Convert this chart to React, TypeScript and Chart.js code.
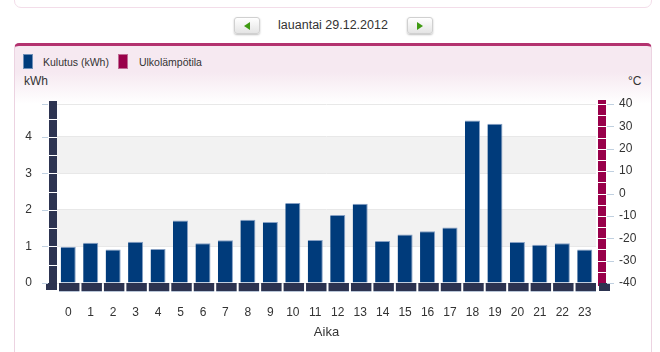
import React, { useEffect, useRef } from "react";
import { Chart, registerables } from "chart.js";

Chart.register(...registerables);

const dateLabel = "lauantai 29.12.2012";
const hours = ["0","1","2","3","4","5","6","7","8","9","10","11","12","13","14","15","16","17","18","19","20","21","22","23"];
const consumption = [0.99, 1.1, 0.92, 1.13, 0.93, 1.71, 1.09, 1.17, 1.73, 1.67, 2.19, 1.18, 1.86, 2.17, 1.15, 1.33, 1.42, 1.52, 4.45, 4.36, 1.12, 1.05, 1.09, 0.92];
const temperature: (number | null)[] = [];
const seriesNames = ["Kulutus (kWh)", "Ulkolämpötila"];
const seriesColors = ["#003b7b", "#99004a"];
const leftTicks = [0, 1, 2, 3, 4];
const rightTicks = [-40, -30, -20, -10, 0, 10, 20, 30, 40];
const leftUnit = "kWh";
const rightUnit = "°C";
const xTitle = "Aika";

const FONT = "Arial, 'Liberation Sans', sans-serif";

const decoPlugin = {
  id: "deco",
  beforeDraw(chart: any) {
    const { ctx, chartArea: a, scales } = chart;
    const y = scales.y;
    ctx.save();
    ctx.fillStyle = "#f2f2f2";
    leftTicks.forEach((t, i) => {
      if (t % 2 === 1 && i + 1 < leftTicks.length) {
        const top = y.getPixelForValue(leftTicks[i + 1]);
        const bot = y.getPixelForValue(t);
        ctx.fillRect(a.left, top, a.right - a.left, bot - top);
      }
    });
    ctx.restore();
  },
  afterDatasetsDraw(chart: any) {
    const { ctx, chartArea: a, scales } = chart;
    const x = scales.x;
    const y = scales.y;
    const y1 = scales.y1;
    ctx.save();
    ctx.fillStyle = "#2d3451";
    ctx.fillRect(a.left - 8, a.top - 3, 8, a.bottom - a.top + 3);
    ctx.strokeStyle = "#ffffff";
    ctx.lineWidth = 1;
    for (let v = 0.5; v < y.max; v += 0.5) {
      const py = Math.round(y.getPixelForValue(v)) + 0.5;
      ctx.beginPath();
      ctx.moveTo(a.left - 8, py);
      ctx.lineTo(a.left, py);
      ctx.stroke();
    }
    ctx.fillStyle = "#99004a";
    ctx.fillRect(a.right + 2, a.top - 4, 8, a.bottom - a.top + 7);
    for (let v = y1.min + 5; v <= y1.max; v += 5) {
      const py = Math.round(y1.getPixelForValue(v)) + 0.5;
      ctx.beginPath();
      ctx.moveTo(a.right + 2, py);
      ctx.lineTo(a.right + 10, py);
      ctx.stroke();
    }
    ctx.fillStyle = "#2c3350";
    const step = (a.right - a.left) / hours.length;
    hours.forEach((_, i) => {
      const cx = x.getPixelForValue(i);
      ctx.fillRect(cx - step / 2 + 2, a.bottom, step - 2, 8);
    });
    ctx.fillRect(a.left - 11, a.bottom, 11, 7);
    ctx.fillRect(a.right + 3, a.bottom, 11, 8);
    ctx.fillStyle = "#b9c6d8";
    hours.forEach((_, i) => {
      const cx = x.getPixelForValue(i);
      ctx.fillRect(cx - step / 2 + 2, a.bottom + 8, step - 2, 1);
    });
    ctx.strokeStyle = "#c0d0e0";
    const lt = [...leftTicks, y.max];
    lt.forEach((v) => {
      const py = Math.round(y.getPixelForValue(v)) + 0.5;
      ctx.beginPath();
      ctx.moveTo(a.left - 15, py);
      ctx.lineTo(a.left - 9, py);
      ctx.stroke();
    });
    rightTicks.forEach((v) => {
      const py = Math.round(y1.getPixelForValue(v)) + 0.5;
      ctx.beginPath();
      ctx.moveTo(a.right + 11, py);
      ctx.lineTo(a.right + 18, py);
      ctx.stroke();
    });
    ctx.restore();
  },
};

function NavButton({ dir }: { dir: "left" | "right" }) {
  const tri =
    dir === "left"
      ? { borderRight: "6px solid #3f9a12", borderTop: "4px solid transparent", borderBottom: "4px solid transparent" }
      : { borderLeft: "6px solid #3f9a12", borderTop: "4px solid transparent", borderBottom: "4px solid transparent" };
  return (
    <div
      style={{
        width: 24,
        height: 15,
        border: "1px solid #d0d0d0",
        borderRadius: 3,
        background: "linear-gradient(#ffffff, #e4e4e4)",
        boxShadow: "0 1px 2px rgba(0,0,0,0.25)",
        display: "flex",
        alignItems: "center",
        justifyContent: "center",
      }}
    >
      <div style={{ width: 0, height: 0, ...tri }} />
    </div>
  );
}

export default function App() {
  const ref = useRef<HTMLCanvasElement | null>(null);

  useEffect(() => {
    if (!ref.current) return;
    const chart = new Chart(ref.current, {
      type: "bar",
      data: {
        labels: hours,
        datasets: [
          {
            type: "bar",
            label: seriesNames[0],
            data: consumption,
            yAxisID: "y",
            backgroundColor: seriesColors[0],
            borderColor: "#86a0c4",
            borderWidth: { top: 1, right: 1, left: 0, bottom: 0 },
            borderSkipped: false,
            barPercentage: 0.67,
            categoryPercentage: 1,
          } as any,
          {
            type: "line",
            label: seriesNames[1],
            data: temperature,
            yAxisID: "y1",
            borderColor: seriesColors[1],
            backgroundColor: seriesColors[1],
          } as any,
        ],
      },
      options: {
        animation: false,
        responsive: false,
        events: [],
        layout: { padding: { top: 104, left: 0, right: 0, bottom: 0 } },
        plugins: { legend: { display: false }, tooltip: { enabled: false } },
        scales: {
          x: {
            offset: true,
            grid: { display: false, drawTicks: false },
            border: { display: false },
            ticks: { padding: 22, color: "#333333", font: { family: FONT, size: 12 }, maxRotation: 0, autoSkip: false },
            title: { display: true, text: xTitle, color: "#333333", font: { family: FONT, size: 13 }, padding: { top: 0, bottom: 12 } },
            afterFit: (s: any) => { s.height = 69; },
          },
          y: {
            position: "left",
            min: 0,
            max: 4.9,
            ticks: {
              stepSize: 1,
              padding: 25,
              color: "#333333",
              font: { family: FONT, size: 12 },
              callback: (v: any) => (leftTicks.includes(Number(v)) ? String(v) : ""),
            },
            grid: { color: "#e8e8e8", drawTicks: false },
            border: { display: false },
            afterFit: (s: any) => { s.width = 57; },
          },
          y1: {
            position: "right",
            min: -40,
            max: 40,
            ticks: { stepSize: 10, padding: 23, color: "#333333", font: { family: FONT, size: 12 } },
            grid: { display: false, drawTicks: false },
            border: { display: false },
            afterFit: (s: any) => { s.width = 64; },
          },
        },
      },
      plugins: [decoPlugin],
    });
    return () => chart.destroy();
  }, []);

  return (
    <div style={{ position: "fixed", left: 0, top: 0, width: 660, height: 352, overflow: "hidden", background: "#fff", fontFamily: FONT, color: "#333" }}>
      <div style={{ position: "absolute", left: 14, top: -20, width: 636, height: 26, border: "1px solid #f3dde9", borderRadius: 7, boxSizing: "content-box" }} />
      <div style={{ position: "absolute", left: 234, top: 17 }}><NavButton dir="left" /></div>
      <div style={{ position: "absolute", left: 407, top: 17 }}><NavButton dir="right" /></div>
      <div style={{ position: "absolute", left: 260, width: 146, top: 17, textAlign: "center", fontSize: 12.5, lineHeight: "16px", color: "#333" }}>{dateLabel}</div>
      <div
        style={{
          position: "absolute",
          left: 14,
          top: 43,
          width: 636,
          height: 330,
          borderLeft: "1px solid #ecd3e1",
          borderRight: "1px solid #ecd3e1",
          borderTop: "3px solid #b3326f",
          borderRadius: "5px 5px 0 0",
          background: "linear-gradient(#f6e9f1 0px, #f6e9f1 26px, #ffffff 58px)",
        }}
      />
      <div style={{ position: "absolute", left: 23, top: 54, display: "flex", alignItems: "center", fontSize: 10.5 }}>
        <div style={{ width: 8, height: 13, background: seriesColors[0], border: "1px solid #6f8fb8" }} />
        <span style={{ marginLeft: 10, marginRight: 9 }}>{seriesNames[0]}</span>
        <div style={{ width: 8, height: 13, background: seriesColors[1], border: "1px solid #c06c95" }} />
        <span style={{ marginLeft: 11 }}>{seriesNames[1]}</span>
      </div>
      <div style={{ position: "absolute", left: 24, top: 74, fontSize: 12, lineHeight: "14px" }}>{leftUnit}</div>
      <div style={{ position: "absolute", left: 628, top: 74, fontSize: 12, lineHeight: "14px" }}>{rightUnit}</div>
      <canvas ref={ref} width={660} height={352} style={{ position: "absolute", left: 0, top: 0, width: 660, height: 352 }} />
    </div>
  );
}
